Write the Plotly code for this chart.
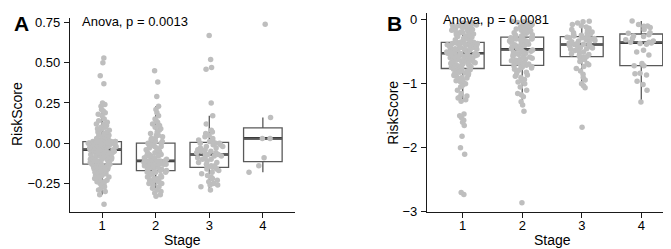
import numpy as np
import plotly.graph_objects as go

# ---------------- DATA ----------------
stages = [1, 2, 3, 4]
stage_labels = ["1", "2", "3", "4"]

# Panel A
a_stage1 = [-0.38, -0.32, -0.30, -0.29, -0.28, -0.27, -0.26, -0.25, -0.25, -0.24,
            -0.24, -0.23, -0.23, -0.22, -0.22, -0.21, -0.21, -0.20, -0.20, -0.20,
            -0.19, -0.19, -0.18, -0.18, -0.18, -0.17, -0.17, -0.17, -0.16, -0.16,
            -0.16, -0.15, -0.15, -0.15, -0.14, -0.14, -0.14, -0.14, -0.13, -0.13,
            -0.13, -0.13, -0.12, -0.12, -0.12, -0.12, -0.11, -0.11, -0.11, -0.11,
            -0.10, -0.10, -0.10, -0.10, -0.09, -0.09, -0.09, -0.09, -0.08, -0.08,
            -0.08, -0.08, -0.07, -0.07, -0.07, -0.07, -0.06, -0.06, -0.06, -0.06,
            -0.06, -0.05, -0.05, -0.05, -0.05, -0.05, -0.04, -0.04, -0.04, -0.04,
            -0.04, -0.04, -0.03, -0.03, -0.03, -0.03, -0.03, -0.03, -0.02, -0.02,
            -0.02, -0.02, -0.02, -0.02, -0.01, -0.01, -0.01, -0.01, -0.01, -0.01,
            0.00, 0.00, 0.00, 0.00, 0.00, 0.00, 0.00, 0.00, 0.01, 0.01,
            0.01, 0.01, 0.01, 0.01, 0.01, 0.01, 0.01, 0.01, 0.01, 0.01,
            0.02, 0.02, 0.02, 0.03, 0.03, 0.03, 0.04, 0.04, 0.04, 0.05,
            0.05, 0.06, 0.06, 0.07, 0.07, 0.08, 0.08, 0.09, 0.09, 0.10,
            0.10, 0.11, 0.12, 0.12, 0.13, 0.14,
            0.15, 0.17, 0.18, 0.19, 0.20, 0.21, 0.23, 0.24, 0.25, 0.37, 0.42, 0.50, 0.53]
a_stage2 = [-0.33, -0.32, -0.31, -0.30, -0.29, -0.28, -0.27, -0.26, -0.25, -0.25,
            -0.24, -0.24, -0.23, -0.23, -0.22, -0.22, -0.21, -0.21, -0.20, -0.20,
            -0.19, -0.19, -0.18, -0.18, -0.18,
            -0.17, -0.17, -0.17, -0.16, -0.16, -0.16, -0.15, -0.15, -0.15, -0.14,
            -0.14, -0.14, -0.13, -0.13, -0.13, -0.13, -0.12, -0.12, -0.12, -0.12,
            -0.11, -0.11, -0.11, -0.11, -0.11,
            -0.11, -0.10, -0.10, -0.09, -0.09, -0.09, -0.08, -0.08, -0.08, -0.07,
            -0.07, -0.06, -0.06, -0.06, -0.05, -0.05, -0.04, -0.04, -0.03, -0.03,
            -0.02, -0.02, -0.01, -0.01, 0.00,
            0.00, 0.01, 0.01, 0.02, 0.03, 0.03, 0.04, 0.05, 0.05, 0.06,
            0.07, 0.08, 0.09, 0.10, 0.11, 0.12, 0.13, 0.14, 0.15, 0.17,
            0.19, 0.21, 0.23, 0.29, 0.38, 0.45]
a_stage3 = [-0.29, -0.27, -0.26, -0.26, -0.25, -0.24, -0.23, -0.22, -0.21, -0.20,
            -0.19, -0.18, -0.17, -0.16, -0.16, -0.15,
            -0.15, -0.14, -0.14, -0.13, -0.12, -0.12, -0.11, -0.10, -0.10, -0.09,
            -0.09, -0.08, -0.08, -0.07, -0.07, -0.07,
            -0.06, -0.06, -0.05, -0.05, -0.04, -0.04, -0.03, -0.03, -0.02, -0.02,
            -0.01, -0.01, 0.00, 0.00, 0.00, 0.01,
            0.01, 0.02, 0.03, 0.04, 0.05, 0.06, 0.07, 0.08, 0.12, 0.17,
            0.25, 0.46, 0.47, 0.52, 0.67]
a_stage4 = [-0.18, -0.14, -0.09, 0.03, 0.03, 0.16, 0.74]

# Panel B
b_stage1 = [-2.73, -2.70, -2.10, -2.00, -1.82, -1.65, -1.60, -1.57, -1.53, -1.50,
            -1.47, -1.27, -1.25, -1.22, -1.20, -1.19, -1.15, -1.10, -1.05, -1.02,
            -1.00, -0.98, -0.97, -0.95, -0.94, -0.92, -0.91, -0.90, -0.88, -0.87,
            -0.86, -0.85, -0.84, -0.83, -0.82, -0.81, -0.80, -0.79, -0.78, -0.77,
            -0.76, -0.75, -0.75, -0.74, -0.73, -0.73, -0.72, -0.71, -0.70, -0.70,
            -0.69, -0.68, -0.68, -0.67, -0.66, -0.66, -0.65, -0.64, -0.64, -0.63,
            -0.62, -0.62, -0.61, -0.60, -0.60, -0.59, -0.58, -0.58, -0.57, -0.57,
            -0.56, -0.56, -0.55, -0.55, -0.54, -0.54, -0.53, -0.53, -0.53, -0.52,
            -0.52, -0.52, -0.51, -0.51, -0.50, -0.50, -0.49, -0.49, -0.48, -0.48,
            -0.47, -0.47, -0.46, -0.46, -0.45, -0.45, -0.44, -0.44, -0.43, -0.43,
            -0.42, -0.42, -0.41, -0.41, -0.40, -0.40, -0.39, -0.39, -0.38, -0.38,
            -0.37, -0.37, -0.37, -0.36, -0.36, -0.36, -0.35, -0.35, -0.35, -0.35,
            -0.35, -0.34, -0.33, -0.32, -0.31, -0.30, -0.30, -0.29, -0.28, -0.27,
            -0.26, -0.25, -0.25, -0.24, -0.23, -0.22, -0.21, -0.20, -0.20, -0.19,
            -0.18, -0.17, -0.16, -0.15, -0.15, -0.14, -0.13, -0.12, -0.11, -0.10,
            -0.10, -0.09, -0.09, -0.08, -0.08, -0.07, -0.07, -0.06, -0.06, -0.05,
            -0.04]
b_stage2 = [-2.86, -1.43, -1.33, -1.28, -1.20, -1.17, -1.15, -1.10, -1.05, -1.00,
            -0.97, -0.95, -0.93, -0.90, -0.88, -0.86, -0.84, -0.82, -0.80, -0.78,
            -0.77, -0.75, -0.74, -0.73, -0.72,
            -0.71, -0.70, -0.69, -0.68, -0.67, -0.66, -0.65, -0.64, -0.63, -0.62,
            -0.61, -0.60, -0.59, -0.58, -0.57, -0.56, -0.55, -0.54, -0.53, -0.52,
            -0.51, -0.50, -0.49, -0.48, -0.47,
            -0.46, -0.45, -0.44, -0.43, -0.42, -0.41, -0.40, -0.39, -0.38, -0.37,
            -0.36, -0.35, -0.35, -0.34, -0.33, -0.33, -0.32, -0.31, -0.31, -0.30,
            -0.30, -0.29, -0.29, -0.28, -0.28,
            -0.27, -0.26, -0.25, -0.24, -0.23, -0.22, -0.21, -0.20, -0.19, -0.18,
            -0.17, -0.16, -0.15, -0.14, -0.13, -0.12, -0.11, -0.10, -0.09, -0.08,
            -0.07, -0.06, -0.05, -0.04, -0.03, -0.02]
b_stage3 = [-1.68, -1.06, -1.03, -1.00, -0.94, -0.90, -0.85, -0.80, -0.76, -0.73,
            -0.70, -0.68, -0.65, -0.62, -0.60, -0.58,
            -0.575, -0.56, -0.54, -0.53, -0.51, -0.50, -0.48, -0.47, -0.46, -0.45,
            -0.44, -0.43, -0.42, -0.41, -0.40, -0.39,
            -0.385, -0.38, -0.37, -0.36, -0.35, -0.34, -0.33, -0.32, -0.31, -0.30,
            -0.30, -0.29, -0.28, -0.28, -0.27, -0.27,
            -0.26, -0.25, -0.24, -0.23, -0.22, -0.21, -0.20, -0.19, -0.17, -0.15,
            -0.13, -0.11, -0.09, -0.07, -0.05, -0.03, -0.02]
b_stage4 = [-1.285, -1.10, -1.01, -0.96, -0.86, -0.84, -0.835, -0.715, -0.715, -0.68,
            -0.55, -0.50, -0.475, -0.38, -0.37, -0.36, -0.35, -0.35, -0.33, -0.31,
            -0.29, -0.26, -0.25, -0.23, -0.21, -0.20, -0.15, -0.12, -0.10, -0.095,
            -0.07, -0.015]

a_ticks = [-0.25, 0.00, 0.25, 0.50, 0.75]
b_ticks = [-3, -2, -1, 0]
a_title = "Anova, p = 0.0013"
b_title = "Anova, p = 0.0081"
x_title = "Stage"
y_title = "RiskScore"

# ---------------- FIGURE ----------------
W, H = 671, 249
FONT = "Liberation Sans, Arial, sans-serif"
POINT = "#BEBEBE"
BOXLINE = "#595959"
AXIS = "#1a1a1a"

panels = [
    dict(groups=[a_stage1, a_stage2, a_stage3, a_stage4], xa="x", ya="y"),
    dict(groups=[b_stage1, b_stage2, b_stage3, b_stage4], xa="x2", ya="y2"),
]

fig = go.Figure()
shapes = []
BW = 0.72
for p in panels:
    xs, ys = [], []
    for s, g in zip(stages, p["groups"]):
        xs += [s] * len(g)
        ys += g
        med = float(np.median(g))
        shapes.append(dict(type="line", xref=p["xa"], yref=p["ya"],
                           x0=s - BW / 2, x1=s + BW / 2, y0=med, y1=med,
                           line=dict(color="#333333", width=2.6), layer="below"))
    fig.add_trace(go.Box(
        x=xs, y=ys, xaxis=p["xa"], yaxis=p["ya"],
        boxpoints="all", jitter=0.75, pointpos=0, width=BW,
        quartilemethod="inclusive", whiskerwidth=0,
        fillcolor="rgba(255,255,255,0)",
        line=dict(color=BOXLINE, width=1.3),
        marker=dict(color=POINT, size=5.5, line=dict(width=0)),
        showlegend=False, hoverinfo="skip",
    ))

axis_common = dict(showline=True, linecolor=AXIS, linewidth=1.1, ticks="outside",
                   ticklen=5, tickwidth=1.1, tickcolor=AXIS, showgrid=False,
                   zeroline=False, tickfont=dict(family=FONT, size=13, color="#000"))


def ann(text, x, y, size=13, anchor="left", angle=0):
    return dict(text=text, x=x / W, y=1 - y / H, xref="paper", yref="paper",
                showarrow=False, xanchor=anchor, yanchor="middle", textangle=angle,
                font=dict(family=FONT, size=size, color="#000"))


fig.update_layout(
    width=W, height=H, margin=dict(l=0, r=0, t=0, b=0),
    paper_bgcolor="white", plot_bgcolor="white",
    shapes=shapes,
    xaxis=dict(domain=[62 / W, 287 / W], range=[0.4, 4.6], anchor="y",
               tickvals=stages, ticktext=stage_labels, ticklabelstandoff=-4,
               **axis_common),
    yaxis=dict(domain=[1 - 210 / H, 1 - 8 / H], range=[-0.43, 0.78], anchor="x",
               tickvals=a_ticks, tickformat=".2f", ticklabelstandoff=1,
               **axis_common),
    xaxis2=dict(domain=[419 / W, 669 / W], range=[0.4, 4.6], anchor="y2",
                tickvals=stages, ticktext=stage_labels, ticklabelstandoff=-4,
                **axis_common),
    yaxis2=dict(domain=[1 - 210 / H, 1 - 3 / H], range=[-3.01, 0.11], anchor="x2",
                tickvals=b_ticks, tickformat="d", ticklabelstandoff=1,
                **axis_common),
    annotations=[
        ann("<b>A</b>", 13, 14.5, size=21, anchor="center"),
        ann("<b>B</b>", 386, 14, size=21, anchor="center"),
        ann(a_title, 72, 12),
        ann(b_title, 433, 10),
        ann(x_title, 174.5, 238.5, size=14, anchor="center"),
        ann(x_title, 544, 238.5, size=14, anchor="center"),
        ann(y_title, 8.5, 108.5, size=14, anchor="center", angle=-90),
        ann(y_title, 385, 106.5, size=14, anchor="center", angle=-90),
    ],
)

fig.write_html("out.html")
